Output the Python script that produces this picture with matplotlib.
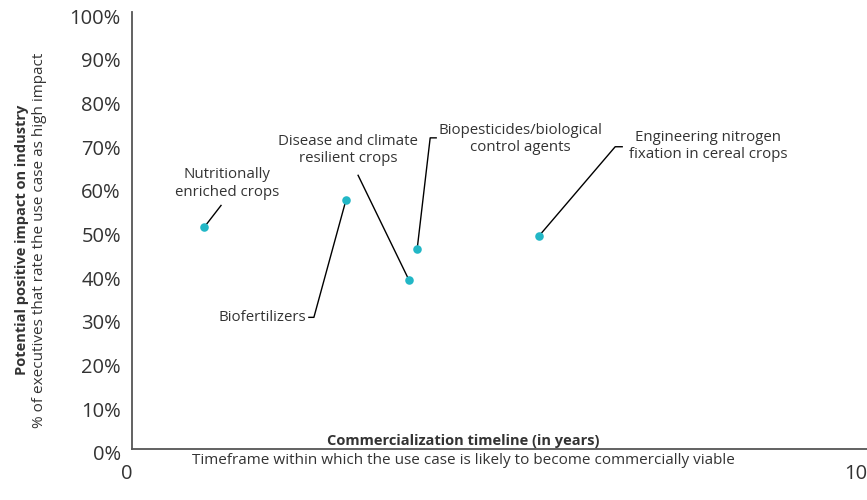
import numpy as np
import matplotlib.pyplot as plt
import matplotlib.transforms as mtransforms

# use cases on the chart
labels = [
    "Nutritionally\nenriched crops",
    "Biofertilizers",
    "Disease and climate\nresilient crops",
    "Biopesticides/biological\ncontrol agents",
    "Engineering nitrogen\nfixation in cereal crops",
]
years = [0.98, 2.91, 3.77, 3.88, 5.54]       # commercialization timeline
impact = [50.7, 56.9, 38.6, 45.8, 48.8]     # % rating high impact

x_ticks = [0, 10]
y_ticks = list(range(0, 101, 10))

plt.rcParams['font.family'] = ['Open Sans', 'DejaVu Sans']
txt = '#333333'
dot = '#22b7c6'

fig = plt.figure(figsize=(8.67, 5.0), dpi=100)
ax = fig.add_axes([132 / 867, 1 - 449 / 500, 735 / 867, 437 / 500])

ax.scatter(years, impact, s=38, color=dot, zorder=3, linewidths=0)
ax.set_xlim(0, 10)
ax.set_ylim(0, 100)

ax.set_yticks(y_ticks)
ax.set_yticklabels([f"{v}%" for v in y_ticks])
ax.set_xticks(x_ticks)
ax.set_xticklabels([str(v) for v in x_ticks])
for t in ax.get_xticklabels():
    t.set_horizontalalignment('right')
ax.tick_params(axis='both', length=0, labelsize=14.5, colors=txt)
ax.tick_params(axis='y', pad=8)
ax.tick_params(axis='x', pad=11)
# y labels sit a few pixels below their gridline value in the original
shift = mtransforms.ScaledTranslation(0, -4 / 100, fig.dpi_scale_trans)
for t in ax.get_yticklabels():
    t.set_transform(t.get_transform() + shift)

for s in ['top', 'right']:
    ax.spines[s].set_visible(False)
for s in ['left', 'bottom']:
    ax.spines[s].set_color('#555555')
    ax.spines[s].set_linewidth(1.3)

# leader lines: pixel offsets from the point (x right, y up), then text spot
leaders = [
    [(0, 0), (17, 22)],
    [(0, 0), (-32, -117), (-37, -117)],
    [(0, 0), (-51, 105)],
    [(0, 0), (13, 111), (19, 111)],
    [(0, 0), (76, 89), (83, 89)],
]
text_pos = [(23, 44, 'center'), (-40, -117, 'right'), (-61, 130, 'center'),
            (103, 110, 'center'), (169, 90, 'center')]

for i in range(len(labels)):
    px, py = ax.transData.transform((years[i], impact[i]))
    pts = np.array([(px + dx, py + dy) for dx, dy in leaders[i]])
    dpts = ax.transData.inverted().transform(pts)
    ax.plot(dpts[:, 0], dpts[:, 1], color='black', lw=1, zorder=2, clip_on=False)
    tx, ty = ax.transData.inverted().transform((px + text_pos[i][0], py + text_pos[i][1]))
    ax.text(tx, ty, labels[i], ha=text_pos[i][2], va='center', multialignment='center',
            fontsize=10.8, color=txt, linespacing=1.2)

# axis titles
fig.text(22 / 867, 0.52, "Potential positive impact on industry", rotation=90,
         ha='center', va='center', fontsize=10.5, fontweight='bold', color=txt)
fig.text(40 / 867, 0.52, "% of executives that rate the use case as high impact",
         rotation=90, ha='center', va='center', fontsize=11, color=txt)
fig.text(463 / 867, 1 - 441 / 500, "Commercialization timeline (in years)",
         ha='center', va='center', fontsize=10.5, fontweight='bold', color=txt)
fig.text(463 / 867, 1 - 461 / 500,
         "Timeframe within which the use case is likely to become commercially viable",
         ha='center', va='center', fontsize=11, color=txt)

fig.savefig('out.png', dpi=100)
